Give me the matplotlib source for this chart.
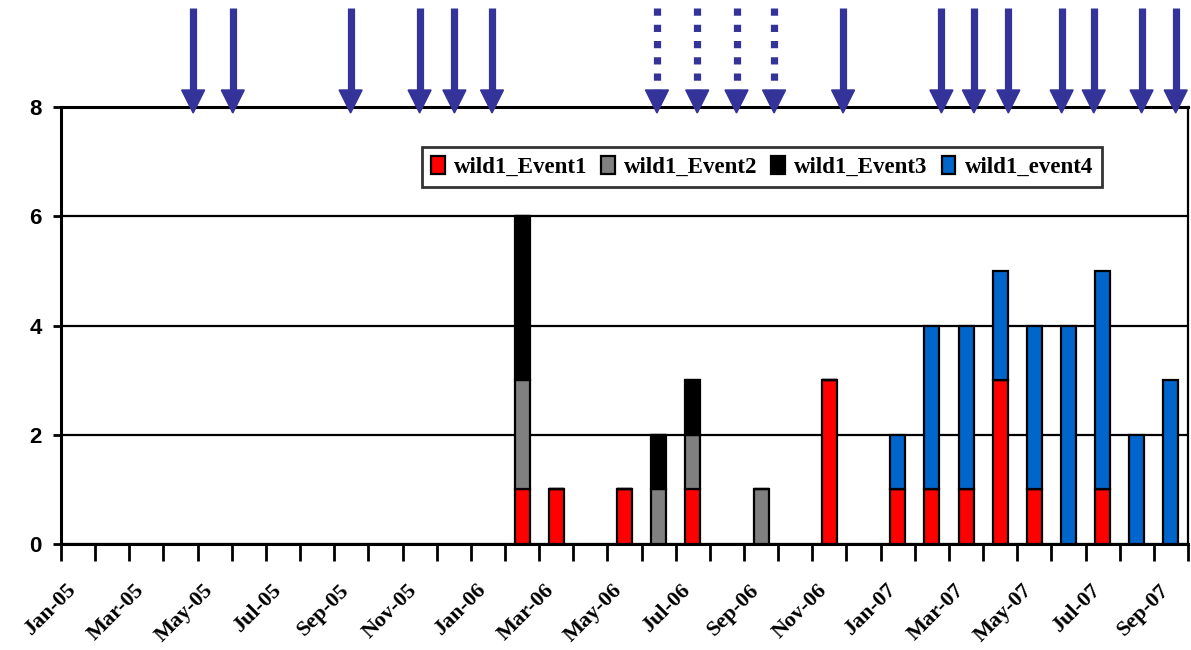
import numpy as np
import pandas as pd
import matplotlib
matplotlib.use("Agg")
import matplotlib.pyplot as plt
import matplotlib.transforms as mtransforms

# Months on the axis (Jan-05 .. Sep-07)
months = pd.date_range("2005-01-01", "2007-09-01", freq="MS").strftime("%b-%y").tolist()

# Bar data
bar_months = ["Feb-06", "Mar-06", "May-06", "Jun-06", "Jul-06", "Sep-06", "Nov-06",
              "Jan-07", "Feb-07", "Mar-07", "Apr-07", "May-07", "Jun-07", "Jul-07",
              "Aug-07", "Sep-07"]
event1 = [1, 1, 1, 0, 1, 0, 3, 1, 1, 1, 3, 1, 0, 1, 0, 0]
event2 = [2, 0, 0, 1, 1, 1, 0, 0, 0, 0, 0, 0, 0, 0, 0, 0]
event3 = [3, 0, 0, 1, 1, 0, 0, 0, 0, 0, 0, 0, 0, 0, 0, 0]
event4 = [0, 0, 0, 0, 0, 0, 0, 1, 3, 3, 2, 3, 4, 4, 2, 3]

series_names = ["wild1_Event1", "wild1_Event2", "wild1_Event3", "wild1_event4"]
series_colors = ["#FF0000", "#808080", "#000000", "#0066CC"]

# Arrows above the chart (months since Jan-05)
arrows_solid = [3.87, 5.03, 8.48, 10.5, 11.52, 12.62, 22.9, 25.78, 26.73, 27.74,
                29.3, 30.24, 31.64, 32.64]
arrows_dotted = [17.45, 18.63, 19.78, 20.88]

arrow_color = "#333399"

fig = plt.figure(figsize=(11.91, 6.5), dpi=100)
ax = fig.add_axes([61 / 1191, 106 / 650, 1127 / 1191, 437 / 650])

# Stacked bars
x = np.array([months.index(m) for m in bar_months]) + 0.5
bottom = np.zeros(len(x))
for vals, name, col in zip([event1, event2, event3, event4], series_names, series_colors):
    vals = np.array(vals)
    ax.bar(x, vals, width=0.44, bottom=bottom, color=col, edgecolor="black",
           linewidth=1.6, label=name, zorder=3)
    bottom = bottom + vals

# Axes style
ax.set_xlim(0, 33)
ax.set_ylim(0, 8)
ax.set_yticks([0, 2, 4, 6, 8])
ax.yaxis.grid(True, color="black", linewidth=1.6, zorder=0)
for s in ax.spines.values():
    s.set_linewidth(1.6)
ax.spines["left"].set_linewidth(2.2)
ax.spines["bottom"].set_linewidth(2.2)
ax.spines["top"].set_linewidth(2.2)

ax.set_xticks(np.arange(0, 33, 2))
ax.set_xticks(np.arange(0, 34), minor=True)
ax.set_xticklabels(months[::2], rotation=45, ha="right", rotation_mode="anchor",
                   fontfamily="Liberation Serif", fontweight="bold", fontsize=16)
ax.tick_params(axis="x", which="both", direction="out", length=12, width=2, pad=14)
ax.tick_params(axis="y", direction="out", length=6, width=2, pad=8)
for lab in ax.get_yticklabels():
    lab.set_fontfamily("Liberation Sans")
    lab.set_fontweight("bold")
    lab.set_fontsize(16)

offset = mtransforms.ScaledTranslation(5 / 100, 0, fig.dpi_scale_trans)
for lab in ax.get_xticklabels():
    lab.set_transform(lab.get_transform() + offset)

# Legend
leg = ax.legend(loc="center", bbox_to_anchor=(0.622, 0.862), ncol=4, frameon=True,
                fancybox=False, edgecolor="black", handlelength=0.6, handleheight=0.8,
                handletextpad=0.4, columnspacing=0.6, borderpad=0.4,
                prop={"family": "Liberation Serif", "weight": "bold", "size": 16.5})
leg.get_frame().set_linewidth(2)

# Arrows
y_px = 8 / 437
shaft_top = 8 + 99 * y_px
head_base = 8 + 17 * y_px
tip = 8 - 6 * y_px
hw = 11.5 / (1127 / 33)

for xa in arrows_solid:
    ax.plot([xa, xa], [head_base, shaft_top], color=arrow_color, lw=5.2,
            solid_capstyle="butt", clip_on=False, zorder=5)
    ax.fill([xa - hw, xa + hw, xa], [head_base, head_base, tip], color=arrow_color,
            clip_on=False, zorder=5)

for xa in arrows_dotted:
    ax.plot([xa, xa], [shaft_top, head_base], color=arrow_color, lw=5.2,
            linestyle=(0, (1.0, 1.25)), dash_capstyle="butt", clip_on=False, zorder=5)
    ax.fill([xa - hw, xa + hw, xa], [head_base, head_base, tip], color=arrow_color,
            clip_on=False, zorder=5)

fig.savefig("out.png", dpi=100)
